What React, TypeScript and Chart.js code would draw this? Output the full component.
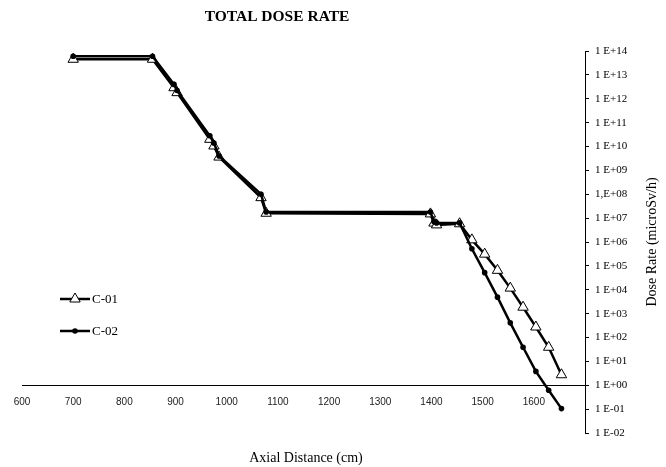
import React, { useEffect, useRef } from "react";
import { Chart, registerables } from "chart.js";

Chart.register(...registerables);

const TITLE = "TOTAL DOSE RATE";
const X_TITLE = "Axial Distance (cm)";
const Y_TITLE = "Dose Rate (microSv/h)";

const xValues = [700, 855, 897, 903, 967, 975, 985, 1067, 1077, 1398, 1405, 1410, 1455, 1479, 1504, 1529, 1554, 1579, 1604, 1629, 1654];
const c01 = [4.5e13, 4.5e13, 2.9e12, 1.8e12, 2.0e10, 1.05e10, 3.6e9, 7.2e7, 1.6e7, 1.5e7, 6.2e6, 5.2e6, 5.8e6, 1.23e6, 3.1e5, 6.5e4, 1.17e4, 1.86e3, 275, 39, 2.75];
const c02 = [6e13, 6e13, 4e12, 2.2e12, 2.8e10, 1.4e10, 4e9, 1e8, 1.8e7, 1.8e7, 7e6, 6.3e6, 6.3e6, 5.2e5, 5.2e4, 4.9e3, 410, 39, 3.8, 0.62, 0.105];

const seriesLabels = ["C-01", "C-02"];

const xTicks = [600, 700, 800, 900, 1000, 1100, 1200, 1300, 1400, 1500, 1600];
const yTickValues = [1e-2, 1e-1, 1e0, 1e1, 1e2, 1e3, 1e4, 1e5, 1e6, 1e7, 1e8, 1e9, 1e10, 1e11, 1e12, 1e13, 1e14];
const yTickLabels = ["1 E-02", "1 E-01", "1 E+00", "1 E+01", "1 E+02", "1 E+03", "1 E+04", "1 E+05", "1 E+06", "1 E+07", "1,E+08", "1 E+09", "1 E+10", "1 E+11", "1 E+12", "1 E+13", "1 E+14"];

function drawMarker(ctx: CanvasRenderingContext2D, style: string, x: number, y: number, r: number) {
  ctx.beginPath();
  if (style === "triangle") {
    for (let k = 0; k < 3; k++) {
      const a = (k * 2 * Math.PI) / 3;
      const px = x + Math.sin(a) * r;
      const py = y - Math.cos(a) * r;
      if (k === 0) ctx.moveTo(px, py);
      else ctx.lineTo(px, py);
    }
    ctx.closePath();
    ctx.fillStyle = "#fff";
    ctx.fill();
    ctx.lineWidth = 1;
    ctx.strokeStyle = "#000";
    ctx.stroke();
  } else {
    ctx.arc(x, y, r, 0, Math.PI * 2);
    ctx.fillStyle = "#000";
    ctx.fill();
  }
}

const textPlugin = {
  id: "texts",
  afterDraw(chart: any) {
    const ctx: CanvasRenderingContext2D = chart.ctx;
    ctx.save();
    ctx.fillStyle = "#000";
    ctx.textAlign = "center";
    ctx.textBaseline = "middle";
    ctx.font = 'bold 15.5px "Liberation Serif"';
    ctx.fillText(TITLE, 277, 17);
    ctx.font = '14px "Liberation Serif"';
    ctx.fillText(X_TITLE, 306, 458);
    ctx.save();
    ctx.translate(652, 242);
    ctx.rotate(-Math.PI / 2);
    ctx.fillText(Y_TITLE, 0, 0);
    ctx.restore();
    chart.data.datasets.forEach((ds: any, i: number) => {
      const y = 299 + i * 32;
      ctx.beginPath();
      ctx.moveTo(60, y);
      ctx.lineTo(90, y);
      ctx.lineWidth = 2.5;
      ctx.strokeStyle = "#000";
      ctx.stroke();
      drawMarker(ctx, ds.pointStyle, 75, y, ds.pointRadius);
      ctx.fillStyle = "#000";
      ctx.textAlign = "left";
      ctx.font = '13px "Liberation Serif"';
      ctx.fillText(ds.label, 92, y + 1);
    });
    ctx.restore();
  },
};

export default function App() {
  const ref = useRef<HTMLCanvasElement>(null);
  useEffect(() => {
    if (!ref.current) return;
    const chart = new Chart(ref.current, {
      type: "line",
      data: {
        datasets: [
          {
            label: seriesLabels[0],
            data: xValues.map((x, i) => ({ x, y: c01[i] })),
            borderColor: "#000",
            borderWidth: 2.5,
            pointStyle: "triangle",
            pointRadius: 6,
            pointBackgroundColor: "#fff",
            pointBorderColor: "#000",
            pointBorderWidth: 1,
            order: 1,
          },
          {
            label: seriesLabels[1],
            data: xValues.map((x, i) => ({ x, y: c02[i] })),
            borderColor: "#000",
            borderWidth: 2.5,
            pointStyle: "circle",
            pointRadius: 2.8,
            pointBackgroundColor: "#000",
            pointBorderColor: "#000",
            pointBorderWidth: 0,
            order: 0,
          },
        ] as any,
      },
      options: {
        animation: false,
        responsive: false,
        layout: { padding: { left: 22, top: 51, bottom: 34, right: 0 } },
        plugins: { legend: { display: false }, title: { display: false }, tooltip: { enabled: false } },
        scales: {
          x: {
            type: "linear",
            min: 600,
            max: 1700,
            position: { y: 1 } as any,
            afterBuildTicks: (scale: any) => {
              scale.ticks = xTicks.map((v) => ({ value: v }));
            },
            grid: { display: true, drawOnChartArea: false, drawTicks: false },
            border: { display: true, color: "#000", width: 1 },
            ticks: {
              color: "#222",
              font: { family: '"Liberation Sans"', size: 10 },
              padding: 11,
              maxRotation: 0,
              autoSkip: false,
              callback: (v: any) => String(v),
            },
          },
          y: {
            type: "logarithmic",
            position: "right",
            min: 1e-2,
            max: 1e14,
            afterBuildTicks: (scale: any) => {
              scale.ticks = yTickValues.map((v) => ({ value: v }));
            },
            afterFit: (scale: any) => {
              scale.width = 81;
            },
            grid: { display: true, drawOnChartArea: false, drawTicks: true, tickLength: 4, color: "#000" },
            border: { display: true, color: "#000", width: 1 },
            ticks: {
              color: "#000",
              font: { family: '"Liberation Serif"', size: 11 },
              padding: 6,
              autoSkip: false,
              callback: (v: any) => {
                const idx = yTickValues.findIndex((t) => Math.abs(Math.log10(t) - Math.log10(v)) < 1e-6);
                return idx >= 0 ? yTickLabels[idx] : "";
              },
            },
          },
        },
      },
      plugins: [textPlugin],
    });
    return () => chart.destroy();
  }, []);
  return (
    <div style={{ position: "absolute", left: 0, top: 0, width: 666, height: 467, background: "#fff" }}>
      <canvas ref={ref} width={666} height={467} style={{ display: "block" }} />
    </div>
  );
}
